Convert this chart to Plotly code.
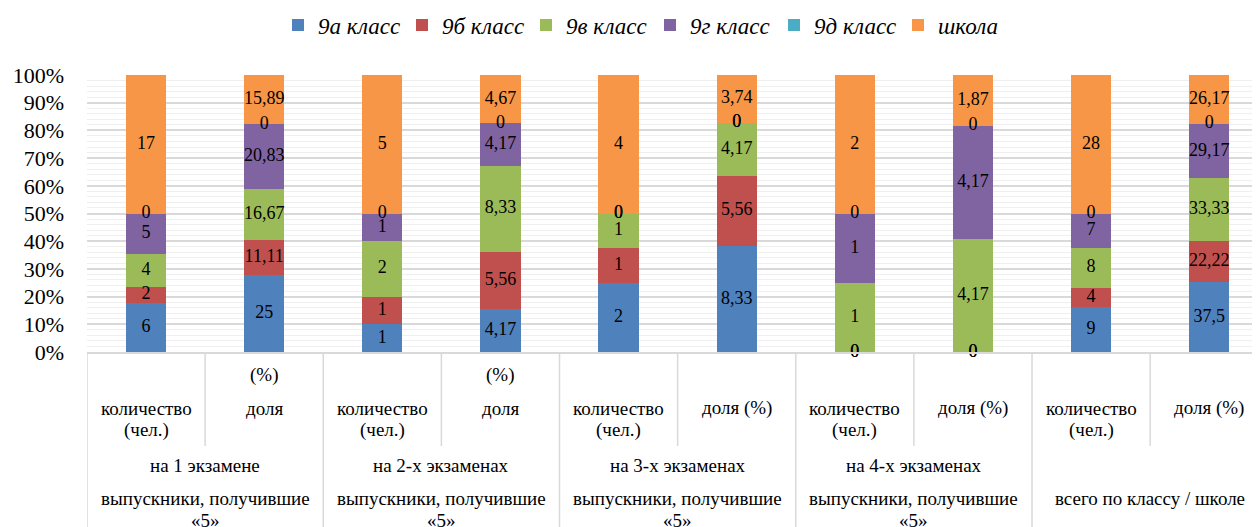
import plotly.graph_objects as go

# ---------------- data ----------------
series_names = ["9а класс", "9б класс", "9в класс", "9г класс", "9д класс", "школа"]
series_colors = ["#4F81BD", "#C0504D", "#9BBB59", "#8064A2", "#4BACC6", "#F79646"]

v_9a = [6, 25, 1, 4.17, 2, 8.33, 0, 0, 9, 37.5]
v_9b = [2, 11.11, 1, 5.56, 1, 5.56, 0, 0, 4, 22.22]
v_9v = [4, 16.67, 2, 8.33, 1, 4.17, 1, 4.17, 8, 33.33]
v_9g = [5, 20.83, 1, 4.17, 0, 0, 1, 4.17, 7, 29.17]
v_9d = [0, 0, 0, 0, 0, 0, 0, 0, 0, 0]
v_school = [17, 15.89, 5, 4.67, 4, 3.74, 2, 1.87, 28, 26.17]

sub_labels = ["количество (чел.)", "доля (%)"] * 5
group_labels = ["на 1 экзамене", "на 2-х экзаменах", "на 3-х экзаменах", "на 4-х экзаменах", ""]
top_labels = ["выпускники, получившие «5»"] * 4 + ["всего по классу / школе"]

y_ticks = [0, 10, 20, 30, 40, 50, 60, 70, 80, 90, 100]
y_tick_text = [f"{t}%" for t in y_ticks]

# ---------------- helpers ----------------
all_series = [v_9a, v_9b, v_9v, v_9g, v_9d, v_school]
n = len(v_9a)
xs = list(range(n))
totals = [sum(s[i] for s in all_series) for i in range(n)]
pcts = [[s[i] / totals[i] * 100 for i in range(n)] for s in all_series]


def fmt(v):
    if float(v).is_integer():
        return str(int(v))
    return ("%g" % v).replace(".", ",")


SERIF = "Liberation Serif"

# the page body has an 8px margin; size the figure so it fits the window exactly
OFF = 8
FIG_W, FIG_H = 1260 - OFF, 527 - OFF

fig = go.Figure()
for name, color, p in zip(series_names, series_colors, pcts):
    fig.add_trace(go.Bar(
        x=xs, y=p, name=name, width=0.34,
        marker=dict(color=color, line=dict(width=0)),
        hoverinfo="skip",
    ))

# data labels, centred on every segment (zero segments sit on the boundary)
cum = [0.0] * n
for s, p in zip(all_series, pcts):
    mids = [cum[i] + p[i] / 2 for i in range(n)]
    fig.add_trace(go.Scatter(
        x=xs, y=mids, mode="text", text=[fmt(v) for v in s],
        textposition="middle center",
        textfont=dict(family=SERIF, size=18, color="#000000"),
        showlegend=False, hoverinfo="skip", cliponaxis=False,
    ))
    cum = [cum[i] + p[i] for i in range(n)]

# ---------------- category axis (3 levels) ----------------
PLOT_TOP, PLOT_BOT = 75, 352          # window pixel rows of 100% and 0%
H = PLOT_BOT - PLOT_TOP


def py(pix):
    return (PLOT_BOT - pix) / H


annots = []
lab_font = dict(family=SERIF, size=19, color="#000000")
for i, lab in enumerate(sub_labels):
    g = i // 2
    if lab.startswith("количество"):
        annots.append(dict(x=i, y=py(408), text="количество"))
        annots.append(dict(x=i, y=py(430), text="(чел.)"))
    elif g < 2:
        annots.append(dict(x=i, y=py(375), text="(%)"))
        annots.append(dict(x=i, y=py(408), text="доля"))
    else:
        annots.append(dict(x=i, y=py(408), text=lab))
for g, lab in enumerate(group_labels):
    if lab:
        annots.append(dict(x=2 * g + 0.5, y=py(465), text=lab))
for g, lab in enumerate(top_labels):
    if lab.endswith("«5»"):
        annots.append(dict(x=2 * g + 0.5, y=py(498), text=lab.replace(" «5»", "")))
        annots.append(dict(x=2 * g + 0.5, y=py(520), text="«5»"))
    else:
        annots.append(dict(x=2 * g + 0.5, y=py(498), text=lab))
for a in annots:
    a.update(xref="x", yref="paper", showarrow=False, font=lab_font,
             xanchor="center", yanchor="middle", align="center")

shapes = []
for k in range(n):
    xline = k - 0.5
    long_line = (k % 2 == 0)
    shapes.append(dict(type="line", xref="x", yref="paper",
                       x0=xline, x1=xline, y0=0,
                       y1=py(530) if long_line else py(446),
                       line=dict(color="#D9D9D9", width=1.5)))

fig.update_layout(
    width=FIG_W, height=FIG_H,
    margin=dict(l=87 - OFF, r=0, t=PLOT_TOP - OFF, b=527 - PLOT_BOT, autoexpand=False),
    paper_bgcolor="white", plot_bgcolor="white",
    font=dict(family=SERIF, color="#000000"),
    barmode="stack", bargap=0,
    showlegend=True,
    legend=dict(orientation="h", xref="container", yref="container",
                x=(278 - OFF) / FIG_W, xanchor="left",
                y=1 - (25 - OFF) / FIG_H, yanchor="middle",
                font=dict(family=SERIF, size=23, color="#000000", style="italic"),
                entrywidth=79, entrywidthmode="pixels",
                traceorder="normal", itemclick=False),
    annotations=annots,
    shapes=shapes,
)
fig.update_xaxes(type="linear", range=[-0.5, 9.43], showticklabels=False,
                 showgrid=False, zeroline=False, ticks="", automargin=False,
                 showline=True, linecolor="#D9D9D9", linewidth=1.5)
fig.update_yaxes(range=[0, 100], tickmode="array", tickvals=y_ticks, ticktext=y_tick_text,
                 tickfont=dict(family=SERIF, size=22, color="#000000"),
                 showgrid=True, gridcolor="#D9D9D9", gridwidth=1.5,
                 minor=dict(dtick=2, showgrid=True, gridcolor="#EFEFEF", gridwidth=1),
                 zeroline=False, showline=False, ticks="", ticklabelstandoff=22,
                 automargin=False)

fig.write_html("out.html")
